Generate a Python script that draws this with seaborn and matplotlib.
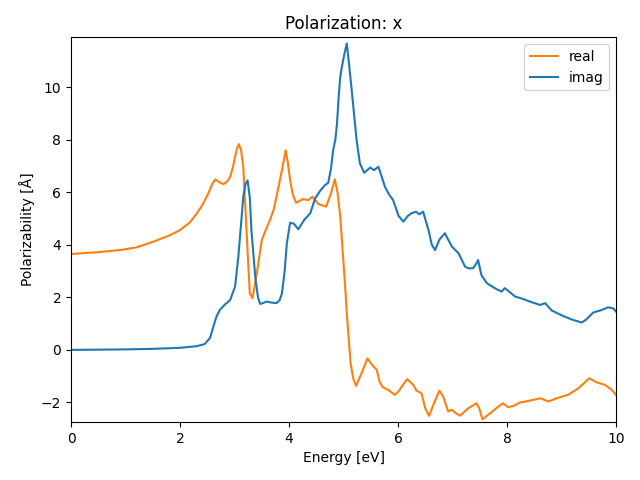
import pandas as pd
import matplotlib
matplotlib.use("Agg")
import matplotlib.pyplot as plt
import seaborn as sns

# imaginary part
imag_energy = [0.0, 0.5, 1.0, 1.5, 2.0, 2.3, 2.45, 2.55, 2.62, 2.67, 2.73, 2.82, 2.92, 3.01, 3.07,
               3.12, 3.16, 3.2, 3.24, 3.28, 3.31, 3.38, 3.43, 3.47, 3.52, 3.59, 3.68, 3.77, 3.83,
               3.87, 3.92, 3.96, 4.02, 4.09, 4.17, 4.28, 4.39, 4.48, 4.57, 4.66, 4.72, 4.77, 4.81,
               4.85, 4.88, 4.91, 4.94, 4.97, 5.02, 5.06, 5.10, 5.15, 5.24, 5.30, 5.38, 5.44, 5.49,
               5.56, 5.64, 5.70, 5.76, 5.84, 5.91, 6.01, 6.10, 6.18, 6.25, 6.33, 6.39, 6.46, 6.56,
               6.62, 6.68, 6.76, 6.86, 6.92, 6.99, 7.11, 7.23, 7.30, 7.38, 7.44, 7.47, 7.53, 7.63,
               7.75, 7.84, 7.90, 7.96, 8.05, 8.15, 8.28, 8.42, 8.55, 8.61, 8.70, 8.82, 9.03, 9.2,
               9.37, 9.45, 9.58, 9.71, 9.86, 9.95, 10.0]
imag_vals = [0.0, 0.01, 0.02, 0.04, 0.08, 0.14, 0.22, 0.45, 0.95, 1.27, 1.52, 1.72, 1.90, 2.41, 3.55,
             4.8, 5.83, 6.3, 6.45, 5.8, 4.56, 2.79, 2.0, 1.75, 1.78, 1.84, 1.80, 1.78, 1.9,
             2.15, 3.0, 4.06, 4.84, 4.8, 4.59, 4.95, 5.20, 5.77, 6.05, 6.27, 6.36, 6.9, 7.60,
             8.0, 8.6, 9.6, 10.39, 10.77, 11.3, 11.66, 10.9, 9.89, 7.98, 7.10, 6.74, 6.85, 6.94,
             6.84, 6.97, 6.6, 6.21, 5.9, 5.70, 5.1, 4.88, 5.1, 5.20, 5.26, 5.16, 5.26, 4.56,
             4.0, 3.80, 4.2, 4.44, 4.2, 3.93, 3.68, 3.17, 3.1, 3.11, 3.3, 3.42, 2.85, 2.54,
             2.38, 2.28, 2.22, 2.35, 2.2, 2.03, 1.95, 1.84, 1.75, 1.71, 1.78, 1.50, 1.29, 1.15,
             1.04, 1.15, 1.42, 1.50, 1.62, 1.58, 1.46]

# real part
real_energy = [0.0, 0.5, 0.9, 1.2, 1.51, 1.8, 2.0, 2.18, 2.31, 2.42, 2.52, 2.6, 2.65, 2.72, 2.80,
               2.87, 2.92, 2.97, 3.01, 3.05, 3.08, 3.12, 3.16, 3.22, 3.28, 3.33, 3.41, 3.50, 3.58,
               3.65, 3.72, 3.77, 3.87, 3.94, 3.98, 4.02, 4.07, 4.13, 4.2, 4.26, 4.35, 4.43, 4.54,
               4.68, 4.77, 4.84, 4.89, 4.94, 5.0, 5.03, 5.06, 5.13, 5.18, 5.23, 5.33, 5.44, 5.50,
               5.55, 5.61, 5.66, 5.72, 5.82, 5.94, 6.02, 6.07, 6.17, 6.28, 6.34, 6.43, 6.50, 6.57,
               6.66, 6.76, 6.83, 6.92, 6.99, 7.07, 7.14, 7.29, 7.44, 7.49, 7.55, 7.69, 7.84, 7.93,
               8.02, 8.12, 8.24, 8.42, 8.61, 8.76, 8.91, 9.12, 9.31, 9.51, 9.65, 9.80, 9.92, 10.0]
real_vals = [3.65, 3.72, 3.80, 3.90, 4.12, 4.35, 4.56, 4.85, 5.20, 5.55, 5.96, 6.35, 6.49, 6.38, 6.31,
             6.42, 6.59, 6.95, 7.35, 7.7, 7.83, 7.6, 6.97, 4.56, 2.15, 1.97, 2.92, 4.18, 4.6,
             4.94, 5.35, 5.83, 6.84, 7.60, 7.1, 6.46, 5.9, 5.60, 5.68, 5.74, 5.70, 5.83, 5.55,
             5.45, 5.96, 6.49, 6.0, 5.07, 3.30, 2.4, 1.40, -0.51, -1.1, -1.37, -0.89, -0.32, -0.5,
             -0.63, -0.76, -1.2, -1.42, -1.52, -1.71, -1.55, -1.39, -1.11, -1.33, -1.55, -1.65, -2.22, -2.51,
             -2.03, -1.55, -1.78, -2.34, -2.28, -2.42, -2.50, -2.22, -2.03, -2.22, -2.64, -2.41, -2.16, -2.03,
             -2.18, -2.13, -2.00, -1.93, -1.84, -1.96, -1.84, -1.71, -1.46, -1.08, -1.24, -1.33, -1.52, -1.71]

real_df = pd.DataFrame({"energy": real_energy, "value": real_vals})
imag_df = pd.DataFrame({"energy": imag_energy, "value": imag_vals})

fig, ax = plt.subplots(figsize=(6.4, 4.8), dpi=100)
sns.lineplot(data=real_df, x="energy", y="value", color="C1", label="real", ax=ax)
sns.lineplot(data=imag_df, x="energy", y="value", color="C0", label="imag", ax=ax)

ax.set_xlim(0, 10)
ax.set_ylim(-2.74, 11.89)
ax.set_title("Polarization: x")
ax.set_xlabel("Energy [eV]")
ax.set_ylabel("Polarizability [Å]")
ax.legend(loc="upper right")
fig.subplots_adjust(left=0.111, right=0.9625, top=0.922, bottom=0.121)
plt.savefig("out.png")
